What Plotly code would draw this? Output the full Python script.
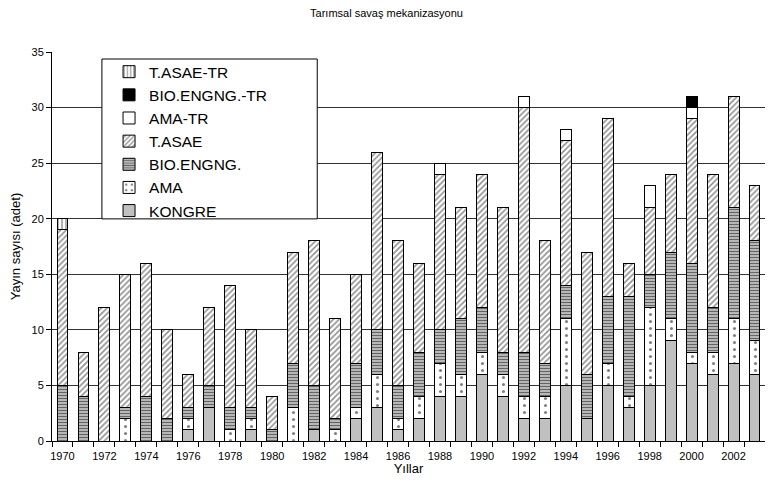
import plotly.graph_objects as go

years = [str(y) for y in range(1970, 2004)]

kongre = [0, 0, 0, 0, 0, 0, 1, 3, 0, 1, 0, 0, 1, 0, 2, 3, 1, 2, 4, 4,
          6, 4, 2, 2, 5, 2, 5, 3, 5, 9, 7, 6, 7, 6]
ama = [0, 0, 0, 2, 0, 0, 1, 0, 1, 1, 0, 3, 0, 1, 1, 3, 1, 2, 3, 2,
       2, 2, 2, 2, 6, 0, 2, 1, 7, 2, 1, 2, 4, 3]
bio = [5, 4, 0, 1, 4, 2, 1, 2, 2, 1, 1, 4, 4, 1, 4, 4, 3, 4, 3, 5,
       4, 2, 4, 3, 3, 4, 6, 9, 3, 6, 8, 4, 10, 9]
tasae = [14, 4, 12, 12, 12, 8, 3, 7, 11, 7, 3, 10, 13, 9, 8, 16, 13, 8, 14, 10,
         12, 13, 22, 11, 13, 11, 16, 3, 6, 7, 13, 12, 10, 5]
ama_tr = [0, 0, 0, 0, 0, 0, 0, 0, 0, 0, 0, 0, 0, 0, 0, 0, 0, 0, 1, 0,
          0, 0, 1, 0, 1, 0, 0, 0, 2, 0, 1, 0, 0, 0]
bio_tr = [0] * 30 + [1, 0, 0, 0]
tasae_tr = [1] + [0] * 33

series = [
    ("KONGRE", kongre, dict(color="#c0c0c0")),
    ("AMA", ama, dict(color="white", pattern=dict(shape=".", fgcolor="black", bgcolor="white", size=7, solidity=0.15))),
    ("BIO.ENGNG.", bio, dict(color="#b0b0b0", pattern=dict(shape="-", fgcolor="black", bgcolor="#c8c8c8", size=3, solidity=0.45))),
    ("T.ASAE", tasae, dict(color="white", pattern=dict(shape="/", fgcolor="#222222", bgcolor="white", size=4, solidity=0.4))),
    ("AMA-TR", ama_tr, dict(color="white")),
    ("BIO.ENGNG.-TR", bio_tr, dict(color="black")),
    ("T.ASAE-TR", tasae_tr, dict(color="white", pattern=dict(shape="|", fgcolor="black", bgcolor="white", size=4, solidity=0.3))),
]

fig = go.Figure()
for name, vals, mk in series:
    mk["line"] = dict(color="black", width=1)
    fig.add_trace(go.Bar(x=years, y=vals, name=name, marker=mk))

# legend box drawn as a shape so its size can follow the original
fig.add_shape(type="rect", xref="paper", yref="paper",
              x0=0.070, x1=0.372, y0=0.571, y1=0.982,
              line=dict(color="black", width=1), fillcolor="white", layer="above")

fig.update_layout(
    barmode="stack",
    bargap=0.48,
    width=757,
    height=468,
    plot_bgcolor="white",
    paper_bgcolor="white",
    font=dict(family="Liberation Sans, Arial, sans-serif", size=11, color="black"),
    title=dict(text="Tarımsal savaş mekanizasyonu", x=0.5, xanchor="center",
               y=0.988, yanchor="middle", font=dict(size=11)),
    margin=dict(l=44, r=0, t=44, b=35),
    legend=dict(
        x=0.080, y=0.992, xanchor="left", yanchor="top",
        traceorder="reversed",
        borderwidth=0, bgcolor="rgba(0,0,0,0)",
        font=dict(size=15.5),
    ),
)

fig.update_yaxes(
    range=[0, 35], dtick=5, showgrid=True, gridcolor="#333333", gridwidth=1,
    showline=True, linecolor="black", ticks="outside", ticklen=5,
    tickcolor="black", title=dict(text="Yayın sayısı (adet)", standoff=12),
    zeroline=False, automargin=False,
)
fig.update_xaxes(
    type="category", tickson="boundaries", ticks="outside", ticklen=5,
    tickcolor="black", showline=True, linecolor="black", mirror=False,
    tickmode="array", tickvals=years,
    ticktext=[y if int(y) % 2 == 0 else "" for y in years],
    tickangle=0, ticklabelstandoff=5, automargin=False,
    title=dict(text="Yıllar", standoff=3),
)

fig.write_html("out.html")
